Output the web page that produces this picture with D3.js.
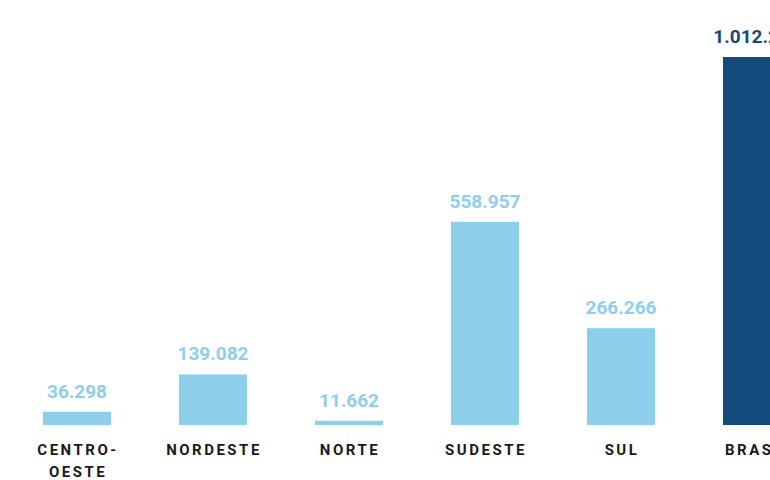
<!DOCTYPE html>
<html><head><meta charset="utf-8">
<script src="https://cdn.jsdelivr.net/npm/d3@7"></script>
<style>body{margin:0;background:#fff}</style></head>
<body><svg id="c" width="770" height="480"></svg>
<script>
const categories = ["CENTRO-\nOESTE","NORDESTE","NORTE","SUDESTE","SUL","BRASIL"];
const values = [36298,139082,11662,558957,266266,1012265];
const labels = ["36.298","139.082","11.662","558.957","266.266","1.012.265"];
const colors = ["#8dcfea","#8dcfea","#8dcfea","#8dcfea","#8dcfea","#134a7c"];
const svg = d3.select("#c");
const x = d3.scaleBand().domain(categories).range([9,825]).paddingInner(0.5).paddingOuter(0.25);
const y = d3.scaleLinear().domain([0,1012265]).range([425,57]);
svg.selectAll("rect").data(values).join("rect")
 .attr("x",(d,i)=>x(categories[i])).attr("width",x.bandwidth())
 .attr("y",d=>y(d)).attr("height",d=>425-y(d)).attr("fill",(d,i)=>colors[i]);
svg.selectAll("text.v").data(values).join("text").attr("class","v")
 .attr("x",(d,i)=>x(categories[i])+x.bandwidth()/2).attr("y",d=>y(d)-14)
 .attr("text-anchor","middle").attr("font-family","Roboto, sans-serif").attr("font-weight","700")
 .attr("font-size",19).attr("fill",(d,i)=>i==5?"#134a7c":"#8dcfea").text((d,i)=>labels[i]);
categories.forEach((c,i)=>{
 const t=svg.append("text").attr("text-anchor","middle").attr("font-family","Roboto, sans-serif")
  .attr("font-weight","700").attr("font-size",15).attr("letter-spacing","2.5").attr("fill","#1a1a1a");
 c.split("\n").forEach((l,j)=>t.append("tspan").attr("x",x(c)+x.bandwidth()/2+1).attr("y",455+j*22).text(l));
});
</script></body></html>
